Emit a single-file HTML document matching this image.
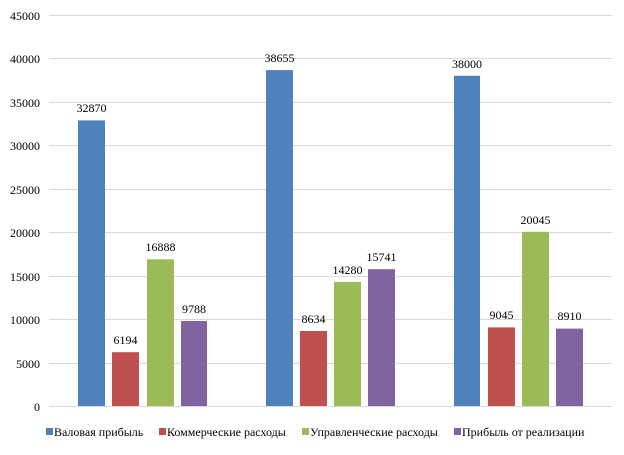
<!DOCTYPE html><html><head><meta charset="utf-8"><style>body{margin:0;background:#fff}</style></head><body>
<svg width="624" height="450" xmlns="http://www.w3.org/2000/svg" font-family="Liberation Serif, serif" font-size="12" fill="#000">
<g stroke="#d9d9d9" stroke-width="1">
<line x1="49" x2="612" y1="15.5" y2="15.5"/><line x1="49" x2="612" y1="58.5" y2="58.5"/><line x1="49" x2="612" y1="102.5" y2="102.5"/><line x1="49" x2="612" y1="145.5" y2="145.5"/><line x1="49" x2="612" y1="189.5" y2="189.5"/><line x1="49" x2="612" y1="232.5" y2="232.5"/><line x1="49" x2="612" y1="276.5" y2="276.5"/><line x1="49" x2="612" y1="319.5" y2="319.5"/><line x1="49" x2="612" y1="363.5" y2="363.5"/><line x1="49" x2="612" y1="406.5" y2="406.5"/>
</g>
<g text-anchor="end">
<text x="40" y="20">45000</text><text x="40" y="63">40000</text><text x="40" y="107">35000</text><text x="40" y="150">30000</text><text x="40" y="194">25000</text><text x="40" y="237">20000</text><text x="40" y="281">15000</text><text x="40" y="324">10000</text><text x="40" y="368">5000</text><text x="40" y="411">0</text>
</g>
<g>
<rect x="78" y="120.4" width="27" height="285.6" fill="#4f81bd"/>
<rect x="112" y="352.2" width="27" height="53.8" fill="#c0504d"/>
<rect x="147" y="259.3" width="27" height="146.7" fill="#9bbb59"/>
<rect x="181" y="321" width="26" height="85" fill="#8064a2"/>
<rect x="266" y="70.1" width="27" height="335.9" fill="#4f81bd"/>
<rect x="300" y="331" width="27" height="75" fill="#c0504d"/>
<rect x="334" y="281.9" width="27" height="124.1" fill="#9bbb59"/>
<rect x="368" y="269.2" width="27" height="136.8" fill="#8064a2"/>
<rect x="454" y="75.8" width="26" height="330.2" fill="#4f81bd"/>
<rect x="488" y="327.4" width="27" height="78.6" fill="#c0504d"/>
<rect x="522" y="231.8" width="27" height="174.2" fill="#9bbb59"/>
<rect x="556" y="328.6" width="27" height="77.4" fill="#8064a2"/>
</g>
<g text-anchor="middle" font-size="12">
<text x="91.5" y="112">32870</text><text x="125.5" y="344">6194</text><text x="160.5" y="251">16888</text><text x="194" y="313">9788</text>
<text x="279.5" y="62">38655</text><text x="313.5" y="323">8634</text><text x="347.5" y="274">14280</text><text x="381.5" y="261">15741</text>
<text x="467" y="68">38000</text><text x="501.5" y="319">9045</text><text x="535.5" y="224">20045</text><text x="569.5" y="320">8910</text>
</g>
<g font-size="12">
<rect x="46" y="428" width="7" height="7" fill="#4f81bd"/><text x="54" y="436">Валовая прибыль</text>
<rect x="159" y="428" width="7" height="7" fill="#c0504d"/><text x="167" y="436">Коммерческие расходы</text>
<rect x="302" y="428" width="7" height="7" fill="#9bbb59"/><text x="310" y="436">Управленческие расходы</text>
<rect x="454" y="428" width="7" height="7" fill="#8064a2"/><text x="462" y="436">Прибыль от реализации</text>
</g>
</svg></body></html>
